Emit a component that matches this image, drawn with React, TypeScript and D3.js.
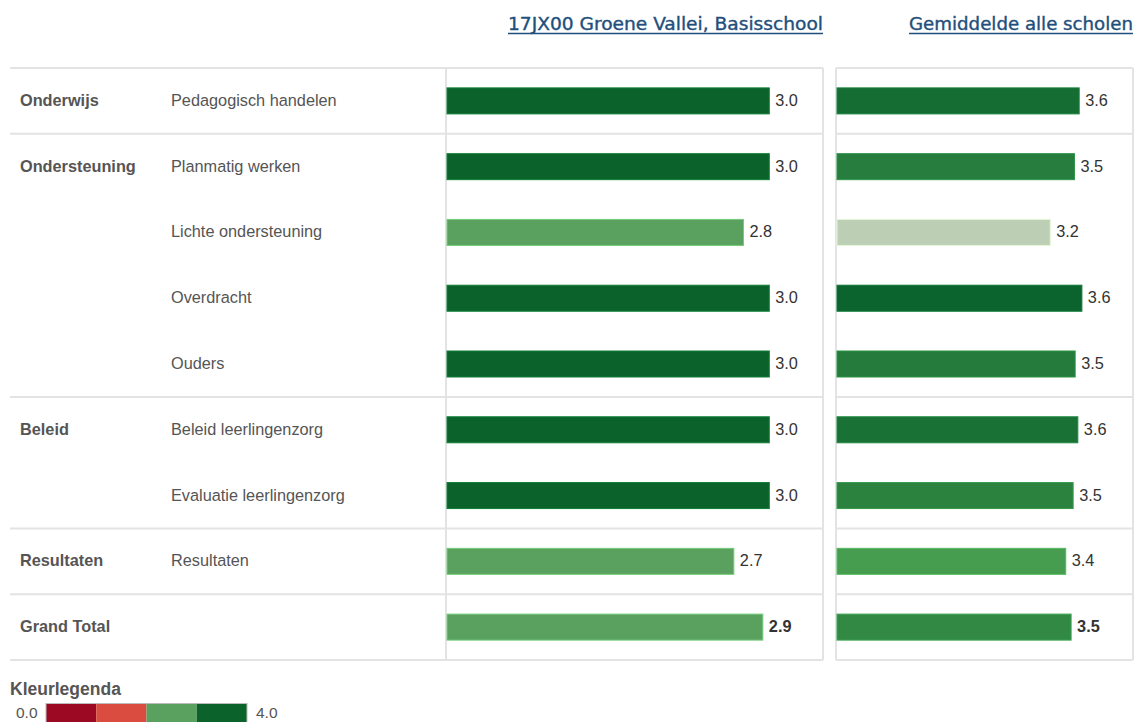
import React from "react";
import * as d3 from "d3";

const categories = ["Onderwijs", "Ondersteuning", "", "", "", "Beleid", "", "Resultaten", "Grand Total"];
const subLabels = [
  "Pedagogisch handelen",
  "Planmatig werken",
  "Lichte ondersteuning",
  "Overdracht",
  "Ouders",
  "Beleid leerlingenzorg",
  "Evaluatie leerlingenzorg",
  "Resultaten",
  "",
];
const schoolValues = [3.0, 3.0, 2.76, 3.0, 3.0, 3.0, 3.0, 2.67, 2.94];
const averageValues = [3.6, 3.53, 3.17, 3.64, 3.54, 3.58, 3.51, 3.4, 3.48];
const groupEnds = [0, 4, 6, 7, 8];
const legendColors = ["#9b0a22", "#da4c40", "#5aa05f", "#0b632b"];
const legendTicks = ["0.0", "4.0"];
const headerSchool = "17JX00 Groene Vallei, Basisschool";
const headerAverage = "Gemiddelde alle scholen";
const legendTitle = "Kleurlegenda";

const W = 1135;
const H = 722;
const top = 68;
const bottom = 660;
const leftX0 = 10;
const labelEnd = 446;
const leftEnd = 823;
const rightStart = 836;
const rightEnd = 1133;
const gridColor = "#e3e3e3";
const textColor = "#555555";
const valueColor = "#333333";
const font = "Arial, 'Liberation Sans', sans-serif";
const headerFont = "'DejaVu Sans Condensed', 'DejaVu Sans', sans-serif";
const headerColor = "#1f4f7c";

export default function App() {
  const n = subLabels.length;
  const y = d3.scaleBand<number>().domain(d3.range(n)).range([top, bottom]).paddingInner(0);
  const rowH = y.bandwidth();
  const barH = 26;
  const xL = d3.scaleLinear().domain([0, 3.5]).range([447, leftEnd]);
  const xR = d3.scaleLinear().domain([0, 4.4]).range([837, rightEnd]);
  const colorL = d3.scaleThreshold<number, string>().domain([1, 2, 2.995]).range(legendColors);
  const colorR = d3
    .scaleLinear<string>()
    .domain([3.17, 3.4, 3.64])
    .range(["#bccfb4", "#469c4f", "#0b632d"])
    .clamp(true);

  const boundaries = [top, ...groupEnds.map((g) => (y(g) as number) + rowH)];
  const legendX = d3.scaleBand<number>().domain(d3.range(legendColors.length)).range([46, 247]);

  return (
    <svg
      width={W}
      height={H}
      style={{ position: "absolute", left: 0, top: 0, display: "block", background: "#fff" }}
      fontFamily={font}
    >
      {/* headers */}
      <text
        x={leftEnd}
        y={30}
        textAnchor="end"
        fontFamily={headerFont}
        fontSize={18}
        fill={headerColor}
        stroke={headerColor}
        strokeWidth={0.35}
        textLength={315}
        lengthAdjust="spacingAndGlyphs"
      >
        {headerSchool}
      </text>
      <line x1={508} x2={leftEnd} y1={33.5} y2={33.5} stroke={headerColor} strokeWidth={1.3} />
      <text
        x={rightEnd}
        y={30}
        textAnchor="end"
        fontFamily={headerFont}
        fontSize={18}
        fill={headerColor}
        stroke={headerColor}
        strokeWidth={0.35}
        textLength={224}
        lengthAdjust="spacingAndGlyphs"
      >
        {headerAverage}
      </text>
      <line x1={909} x2={rightEnd} y1={33.5} y2={33.5} stroke={headerColor} strokeWidth={1.3} />

      {/* grid lines */}
      {boundaries.map((b, i) => (
        <g key={"b" + i}>
          <line x1={leftX0} x2={leftEnd} y1={b} y2={b} stroke={gridColor} strokeWidth={2} />
          <line x1={rightStart} x2={rightEnd} y1={b} y2={b} stroke={gridColor} strokeWidth={2} />
        </g>
      ))}
      <line x1={labelEnd} x2={labelEnd} y1={top} y2={bottom} stroke={gridColor} strokeWidth={2} />
      <line x1={leftEnd} x2={leftEnd} y1={top} y2={bottom} stroke={gridColor} strokeWidth={2} />
      <line x1={rightStart} x2={rightStart} y1={top} y2={bottom} stroke={gridColor} strokeWidth={2} />
      <line x1={rightEnd} x2={rightEnd} y1={top} y2={bottom} stroke={gridColor} strokeWidth={2} />

      {/* rows */}
      {subLabels.map((s, i) => {
        const cy = (y(i) as number) + rowH / 2;
        const bold = i === n - 1;
        const fl = colorL(schoolValues[i]);
        const fr = colorR(averageValues[i]);
        return (
          <g key={"r" + i}>
            {categories[i] && (
              <text x={20} y={cy + 5} fontSize={16.3} fontWeight="bold" fill={textColor}>
                {categories[i]}
              </text>
            )}
            {s && (
              <text x={171} y={cy + 5} fontSize={16.3} fill={textColor}>
                {s}
              </text>
            )}
            <rect
              x={xL(0)}
              y={cy - barH / 2}
              width={xL(schoolValues[i]) - xL(0)}
              height={barH}
              fill={fl}
              stroke={d3.color(fl)!.brighter(0.7).formatHex()}
              strokeWidth={1}
            />
            <text
              x={xL(schoolValues[i]) + 6}
              y={cy + 5}
              fontSize={16.3}
              fontWeight={bold ? "bold" : "normal"}
              fill={valueColor}
            >
              {schoolValues[i].toFixed(1)}
            </text>
            <rect
              x={xR(0)}
              y={cy - barH / 2}
              width={xR(averageValues[i]) - xR(0)}
              height={barH}
              fill={fr}
              stroke={d3.color(fr)!.brighter(0.5).formatHex()}
              strokeWidth={1}
            />
            <text
              x={xR(averageValues[i]) + 6}
              y={cy + 5}
              fontSize={16.3}
              fontWeight={bold ? "bold" : "normal"}
              fill={valueColor}
            >
              {averageValues[i].toFixed(1)}
            </text>
          </g>
        );
      })}

      {/* legend */}
      <text x={10} y={695} fontSize={17.5} fontWeight="bold" fill={textColor}>
        {legendTitle}
      </text>
      <text x={16} y={718} fontSize={15.5} fill={textColor}>
        {legendTicks[0]}
      </text>
      {legendColors.map((c, i) => (
        <rect
          key={"l" + i}
          x={legendX(i)}
          y={703.5}
          width={legendX.bandwidth()}
          height={22}
          fill={c}
        />
      ))}
      <rect x={46} y={703.5} width={201} height={22} fill="none" stroke="#bbbbbb" strokeWidth={1} />
      <text x={256} y={718} fontSize={15.5} fill={textColor}>
        {legendTicks[1]}
      </text>
    </svg>
  );
}
